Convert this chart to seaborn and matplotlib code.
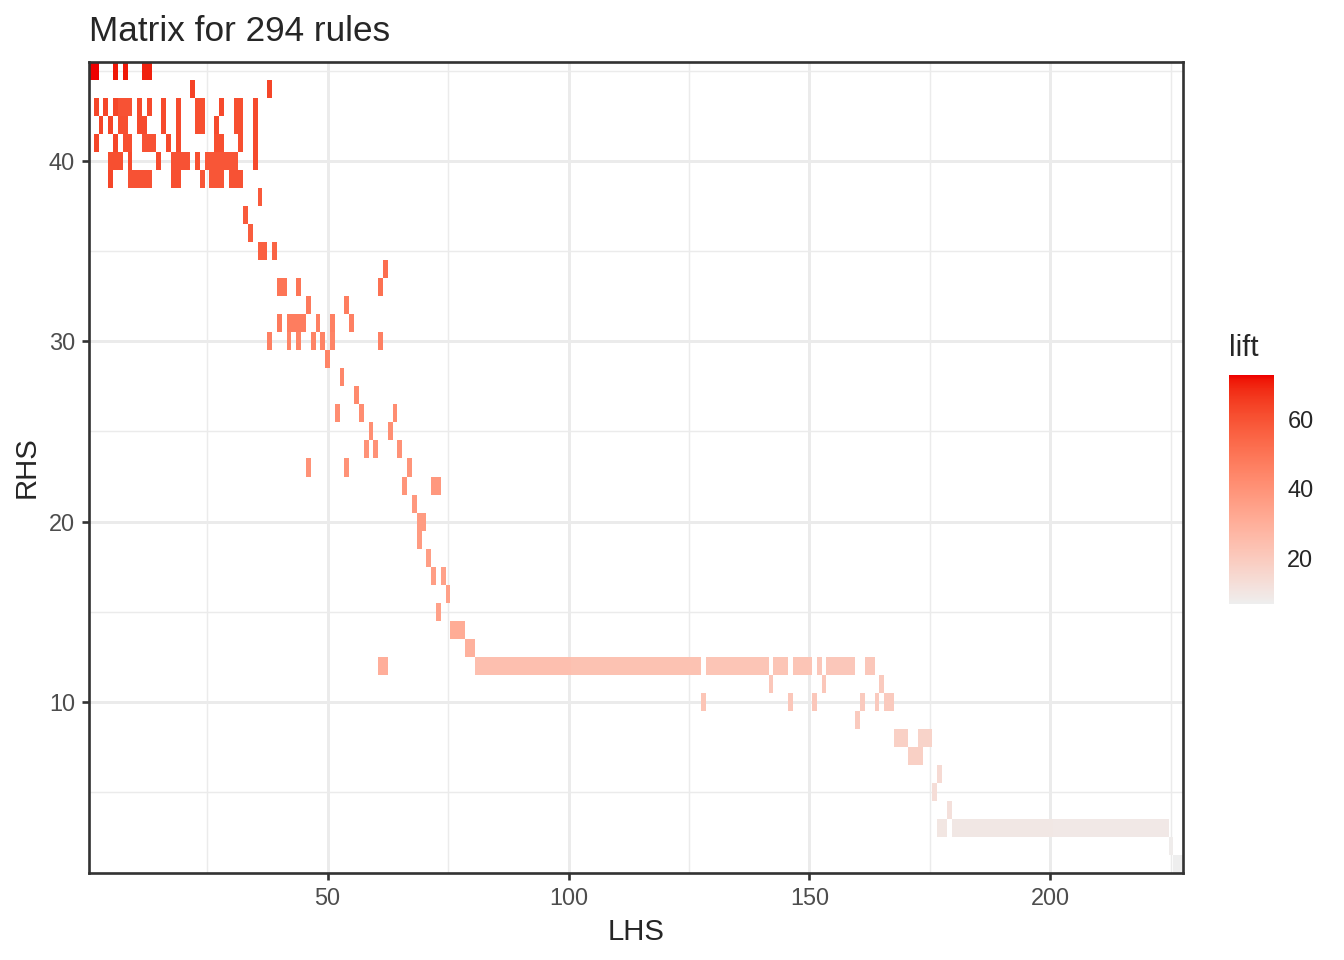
import numpy as np
import pandas as pd
import matplotlib
matplotlib.use("Agg")
import matplotlib.pyplot as plt
from matplotlib.colors import ListedColormap
import seaborn as sns

# rules as runs of consecutive LHS ids sharing one RHS id and about the same lift
run_rhs = [45, 45, 45, 45,
           44, 44,
           43, 43, 43, 43, 43, 43, 43, 43, 43, 43, 43, 43,
           42, 42, 42, 42, 42, 42, 42, 42, 42, 42,
           41, 41, 41, 41, 41, 41, 41, 41, 41,
           40, 40, 40, 40, 40, 40, 40,
           39, 39, 39, 39, 39, 39,
           38, 37, 36, 35, 35, 34,
           33, 33, 33, 32, 32,
           31, 31, 31, 31, 31,
           30, 30, 30, 30, 30, 30, 30,
           29, 28, 27, 26, 26, 26, 25, 25, 24, 24, 24, 23, 23, 23,
           22, 22, 21, 20, 19, 18, 17, 17, 16, 15, 14, 13,
           12, 12, 12, 12, 12, 12, 12, 12, 12,
           11, 11, 11,
           10, 10, 10, 10, 10, 10,
           9, 8, 8, 7, 6, 5, 4, 3, 3, 3, 2, 1]
run_first = [1, 6, 8, 12,
             22, 38,
             2, 4, 6, 7, 11, 13, 16, 19, 23, 28, 31, 35,
             3, 5, 7, 11, 16, 19, 23, 27, 31, 35,
             2, 6, 8, 12, 17, 19, 27, 32, 35,
             5, 9, 15, 18, 23, 25, 35,
             5, 9, 18, 24, 26, 30,
             36, 33, 34, 36, 39, 62,
             40, 44, 61, 46, 54,
             40, 42, 48, 51, 55,
             38, 42, 44, 47, 49, 51, 61,
             50, 53, 56, 52, 57, 64, 59, 63, 58, 60, 65, 46, 54, 67,
             66, 72, 68, 69, 69, 71, 72, 74, 75, 73, 76, 79,
             61, 81, 101, 129, 143, 147, 152, 154, 162,
             142, 153, 165,
             128, 146, 151, 161, 164, 166,
             160, 168, 173, 171, 177, 176, 179, 177, 180, 201, 225, 226]
run_last = [2, 6, 8, 13,
            22, 38,
            2, 4, 6, 9, 11, 13, 16, 19, 24, 28, 32, 35,
            3, 5, 8, 12, 16, 19, 24, 27, 32, 35,
            2, 6, 9, 14, 17, 19, 28, 32, 35,
            7, 9, 15, 21, 23, 31, 35,
            5, 13, 19, 24, 28, 32,
            36, 33, 34, 37, 39, 62,
            41, 44, 61, 46, 54,
            40, 45, 48, 51, 55,
            38, 42, 44, 47, 49, 51, 61,
            50, 53, 56, 52, 57, 64, 59, 63, 58, 60, 65, 46, 54, 67,
            66, 73, 68, 70, 69, 71, 72, 74, 75, 73, 78, 80,
            62, 100, 127, 141, 145, 150, 152, 159, 163,
            142, 153, 165,
            128, 146, 151, 161, 164, 167,
            160, 170, 175, 173, 177, 176, 179, 178, 200, 224, 225, 227]
run_lift = [72.7, 71, 71, 70,
            64, 63,
            63, 63, 63, 60, 62, 62, 62, 62, 61, 62, 61, 62,
            63, 63, 61, 62, 62, 62, 61, 62, 61, 62,
            63, 63, 61, 60, 62, 62, 61, 61, 62,
            61, 62, 62, 60, 61, 59, 62,
            63, 60, 61, 59, 59, 60,
            58, 58, 57, 56, 55, 52,
            50, 50, 51, 48, 47,
            48, 47, 46, 46, 46,
            46, 45, 45, 45, 45, 45, 46,
            45, 44, 43, 42, 42, 42, 41, 41, 40, 40, 40, 40, 40, 39,
            39, 38, 38, 37, 37, 36, 36, 35, 35, 35, 31, 29,
            30, 24, 23, 22, 22, 22, 21, 21, 21,
            21, 21, 20,
            22, 21, 21, 20, 20, 20,
            20, 18, 17, 18, 14, 13, 12, 10, 9.5, 9, 7.5, 6.7]

n_lhs = 227
n_rhs = 45

rows = []
for r, a, b, v in zip(run_rhs, run_first, run_last, run_lift):
    for c in range(a, b + 1):
        rows.append((r, c, v))
rules = pd.DataFrame(rows, columns=["RHS", "LHS", "lift"])
grid = rules.pivot(index="RHS", columns="LHS", values="lift")
grid = grid.reindex(index=range(1, n_rhs + 1), columns=range(1, n_lhs + 1))


# ggplot-like gradient, interpolated in CIELAB
def hex_to_lab(h):
    rgb = np.array([int(h[i:i + 2], 16) for i in (1, 3, 5)]) / 255
    lin = np.where(rgb <= 0.04045, rgb / 12.92, ((rgb + 0.055) / 1.055) ** 2.4)
    M = np.array([[0.4124, 0.3576, 0.1805], [0.2126, 0.7152, 0.0722], [0.0193, 0.1192, 0.9505]])
    xyz = M @ lin / np.array([0.95047, 1.0, 1.08883])
    f = np.where(xyz > 0.008856, np.cbrt(xyz), 7.787 * xyz + 16 / 116)
    return np.array([116 * f[1] - 16, 500 * (f[0] - f[1]), 200 * (f[1] - f[2])])


def lab_to_rgb(lab):
    L, a, b = lab
    fy = (L + 16) / 116
    f = np.array([fy + a / 500, fy, fy - b / 200])
    xyz = np.where(f ** 3 > 0.008856, f ** 3, (f - 16 / 116) / 7.787) * np.array([0.95047, 1.0, 1.08883])
    Minv = np.array([[3.2406, -1.5372, -0.4986], [-0.9689, 1.8758, 0.0415], [0.0557, -0.2040, 1.0570]])
    lin = np.clip(Minv @ xyz, 0, 1)
    rgb = np.where(lin <= 0.0031308, 12.92 * lin, 1.055 * lin ** (1 / 2.4) - 0.055)
    return np.clip(rgb, 0, 1)


lo, hi = hex_to_lab("#EEEEEE"), hex_to_lab("#EE0000")
cmap = ListedColormap([lab_to_rgb(lo + (hi - lo) * t) for t in np.linspace(0, 1, 256)])

sns.set_style("white")
plt.rcParams["font.family"] = ["Liberation Sans", "DejaVu Sans"]

fig = plt.figure(figsize=(7, 5), dpi=192)
ax = fig.add_axes([89 / 1344, 1 - 873 / 960, (1183 - 89) / 1344, (873 - 62) / 960])
cax = fig.add_axes([1229 / 1344, 1 - 604 / 960, 45 / 1344, 229 / 960])

vmin, vmax = rules["lift"].min(), rules["lift"].max()
sns.heatmap(grid, ax=ax, cbar_ax=cax, cmap=cmap, vmin=vmin, vmax=vmax,
            xticklabels=False, yticklabels=False)

ax.set_xlim(0, n_lhs)
ax.set_ylim(0, n_rhs)
ax.set_xticks([v - 0.5 for v in [50, 100, 150, 200]])
ax.set_xticklabels(["50", "100", "150", "200"])
ax.set_yticks([v - 0.5 for v in [10, 20, 30, 40]])
ax.set_yticklabels(["10", "20", "30", "40"], rotation=0)
ax.set_xticks([v - 0.5 for v in [25, 75, 125, 175, 225]], minor=True)
ax.set_yticks([v - 0.5 for v in [5, 15, 25, 35, 45]], minor=True)
ax.set_axisbelow(True)
ax.grid(which="major", color="#EBEBEB", lw=1.1, zorder=0)
ax.grid(which="minor", color="#EBEBEB", lw=0.55, zorder=0)
ax.tick_params(which="major", length=2.75, width=1.0, color="#333333",
               labelsize=8.8, labelcolor="#4D4D4D", pad=2.5,
               bottom=True, left=True)
ax.tick_params(which="minor", length=0)
for s in ax.spines.values():
    s.set_visible(True)
    s.set_color("#333333")
    s.set_linewidth(1.0)

ax.set_xlabel("LHS", fontsize=11, labelpad=3)
ax.set_ylabel("RHS", fontsize=11, labelpad=3)
ax.set_title("Matrix for 294 rules", loc="left", fontsize=13.2, pad=8)

cbar = ax.collections[0].colorbar
cbar.outline.set_visible(False)
cbar.set_ticks([20, 40, 60])
cax.tick_params(direction="in", color="white", length=3.4, width=0.8,
                left=True, right=True, labelsize=8.8, pad=5)
fig.text(1229 / 1344, 1 - 348 / 960, "lift", fontsize=11, va="center", ha="left")

fig.savefig("out.png", dpi=192)
